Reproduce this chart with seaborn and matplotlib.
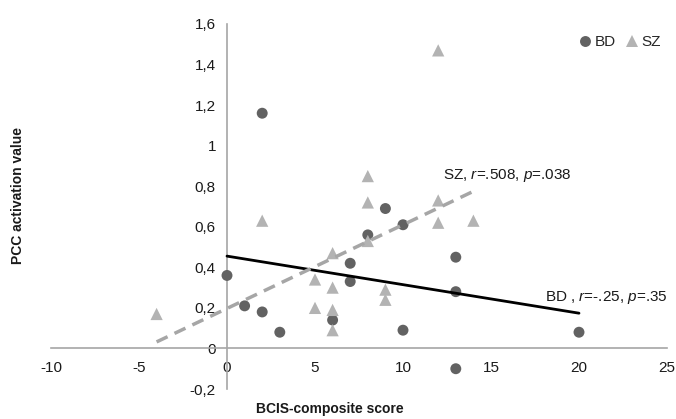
import matplotlib
matplotlib.use("Agg")
import matplotlib.pyplot as plt
import seaborn as sns
import pandas as pd
from matplotlib.ticker import FuncFormatter, FixedLocator

# ---- data ----
bd_x = [0, 1, 2, 2, 3, 6, 7, 7, 8, 9, 10, 10, 13, 13, 13, 20]
bd_y = [0.36, 0.21, 0.18, 1.16, 0.08, 0.14, 0.42, 0.33, 0.56, 0.69, 0.61, 0.09, 0.45, 0.28, -0.10, 0.08]
sz_x = [-4, 2, 5, 5, 6, 6, 6, 6, 8, 8, 8, 9, 9, 12, 12, 12, 14]
sz_y = [0.17, 0.63, 0.34, 0.20, 0.47, 0.30, 0.19, 0.09, 0.85, 0.72, 0.53, 0.29, 0.24, 1.47, 0.73, 0.62, 0.63]
groups = ["BD", "SZ"]
x_ticks = [-10, -5, 0, 5, 10, 15, 20, 25]
y_ticks = [-0.2, 0, 0.2, 0.4, 0.6, 0.8, 1.0, 1.2, 1.4, 1.6]
sz_label = r"SZ, $\mathit{r}$=.508, $\mathit{p}$=.038"
bd_label = r"BD , $\mathit{r}$=-.25, $\mathit{p}$=.35"
x_title = "BCIS-composite score"
y_title = "PCC activation value"

df = pd.DataFrame({
    "score": bd_x + sz_x,
    "value": bd_y + sz_y,
    "group": ["BD"] * len(bd_x) + ["SZ"] * len(sz_x),
})

sns.set_style("white")
plt.rcParams["font.family"] = ["Liberation Sans", "DejaVu Sans"]
plt.rcParams["mathtext.fontset"] = "custom"
plt.rcParams["mathtext.rm"] = "Liberation Sans"
plt.rcParams["mathtext.it"] = "Liberation Sans:italic"

fig = plt.figure(figsize=(6.76, 4.19), dpi=100)
ax = fig.add_axes([51 / 676, 30 / 419, 616 / 676, 365 / 419])

colors = {"BD": "#626262", "SZ": "#b3b3b3"}
markers = {"BD": "o", "SZ": "^"}
msizes = {"BD": 62, "SZ": 78}

sns.scatterplot(data=df, x="score", y="value", hue="group", style="group",
                size="group", sizes=msizes, size_order=groups,
                palette=colors, markers=markers, linewidth=0,
                hue_order=groups, style_order=groups, ax=ax, zorder=3)

sns.regplot(data=df[df.group == "BD"], x="score", y="value", scatter=False,
            ci=None, truncate=True, color="black",
            line_kws={"lw": 2.0, "zorder": 4}, ax=ax)
sns.regplot(data=df[df.group == "SZ"], x="score", y="value", scatter=False,
            ci=None, truncate=True, color="#a6a6a6",
            line_kws={"lw": 2.5, "ls": (0, (3.5, 2.2)), "zorder": 4}, ax=ax)

ax.set_xlim(-10, 25)
ax.set_ylim(-0.2, 1.6)
ax.xaxis.set_major_locator(FixedLocator(x_ticks))
ax.yaxis.set_major_locator(FixedLocator(y_ticks))


def comma(v, pos):
    s = f"{v:.1f}".rstrip("0").rstrip(".")
    if s in ("-0", ""):
        s = "0"
    return s.replace(".", ",")


ax.yaxis.set_major_formatter(FuncFormatter(comma))
ax.xaxis.set_major_formatter(FuncFormatter(lambda v, p: f"{v:g}"))

for side in ("top", "right"):
    ax.spines[side].set_visible(False)
ax.spines["left"].set_position(("data", 0))
ax.spines["bottom"].set_position(("data", 0))
for side in ("left", "bottom"):
    ax.spines[side].set_color("#a6a6a6")
    ax.spines[side].set_linewidth(1.2)
ax.tick_params(axis="both", which="major", direction="out", length=4,
               width=1.0, color="#a6a6a6", labelsize=11, labelcolor="#1a1a1a")
ax.tick_params(axis="x", pad=5)
ax.tick_params(axis="y", pad=4)
ax.set_xlabel("")
ax.set_ylabel("")

fig.text(330 / 676, 1 - 409 / 419, x_title, fontsize=10, fontweight="bold",
         ha="center", va="center", color="#1a1a1a")
fig.text(18 / 676, 1 - 195 / 419, y_title, fontsize=10, fontweight="bold",
         rotation=90, ha="center", va="center", color="#1a1a1a")

ax.annotate(sz_label, xy=(443, 419 - 175), xycoords="figure pixels",
            fontsize=11, ha="left", va="center", color="#1a1a1a")
ax.annotate(bd_label, xy=(545, 419 - 297), xycoords="figure pixels",
            fontsize=11, ha="left", va="center", color="#1a1a1a")

leg = ax.legend(loc="upper right", bbox_to_anchor=(1.005, 0.995), ncol=2,
                frameon=False, fontsize=11, handletextpad=0.1,
                handlelength=1.0, columnspacing=0.6, markerscale=1.0,
                borderaxespad=0.2)

fig.savefig("out.png", dpi=100)
